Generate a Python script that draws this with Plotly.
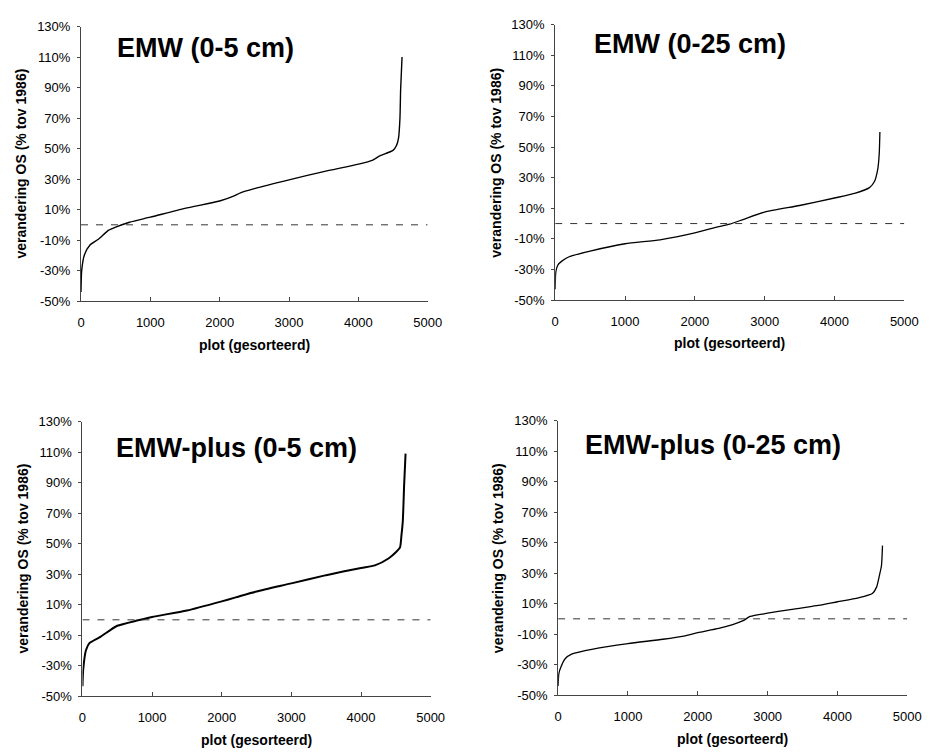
import plotly.graph_objects as go

W, H = 936, 756

# ---- data ----
titles = ["EMW (0-5 cm)", "EMW (0-25 cm)", "EMW-plus (0-5 cm)", "EMW-plus (0-25 cm)"]

emw5_x = [0, 10, 50, 130, 250, 400, 500, 700, 1000, 1500, 2000, 2200, 2300, 2500, 3000, 3500,
          4000, 4200, 4300, 4500, 4550, 4580, 4600, 4610, 4630]
emw5_y = [-44, -30, -19.6, -13.2, -9.5, -3.5, -1.5, 1.7, 5, 10.8, 15.6, 18.8, 21, 23.7, 29.5, 34.9,
          39.8, 42.3, 45, 48.8, 52, 57, 70, 89, 110]

emw25_x = [0, 10, 40, 100, 200, 500, 1000, 1500, 2000, 2300, 2500, 2700, 3000, 3500, 4000, 4300,
           4500, 4570, 4620, 4640, 4650]
emw25_y = [-43, -31.3, -27, -24.4, -21.7, -18, -13.2, -10.6, -6.1, -2.5, -0.4, 2.8, 7.5, 11.8,
           16.7, 19.9, 23.5, 27.3, 35.8, 45.4, 59.9]

plus5_x = [0, 10, 50, 100, 250, 400, 500, 800, 1000, 1500, 2000, 2200, 2500, 3000, 3500, 4000,
           4200, 4400, 4500, 4560, 4580, 4600, 4620, 4640]
plus5_y = [-43.6, -32.9, -20, -15.3, -11.4, -6.7, -3.9, -0.3, 1.9, 6.1, 12.1, 14.7, 18.6, 23.9,
           29.3, 34, 35.7, 40.4, 44.3, 47.5, 55, 64.6, 89, 109]

plus25_x = [0, 10, 40, 100, 200, 500, 1000, 1500, 1800, 2000, 2300, 2500, 2650, 2750, 3000, 3300,
            3700, 4000, 4300, 4500, 4560, 4600, 4630, 4645]
plus25_y = [-44, -35.9, -31.6, -26.2, -23, -19.8, -16.2, -13.4, -11.3, -9.1, -6.3, -3.8, -1.2, 1.6,
            3.7, 5.9, 8.6, 11.2, 13.8, 16.6, 20.8, 28.3, 34.8, 48]

series_x = [emw5_x, emw25_x, plus5_x, plus25_x]
series_y = [emw5_y, emw25_y, plus5_y, plus25_y]

x_range = [0, 5000]
y_range = [-50, 130]
y_ticks = [-50, -30, -10, 10, 30, 50, 70, 90, 110, 130]
x_ticks = [0, 1000, 2000, 3000, 4000, 5000]
x_title = "plot (gesorteerd)"
y_title = "verandering OS (% tov 1986)"

# ---- layout geometry (pixels) ----
# (left, right, top, bottom) plot areas
boxes = [(78.5, 432, 20, 300), (562, 918, 18, 299), (80, 435, 423, 703), (565, 921, 422, 702)]
title_pos = [(494, 116), (534, 117.2), (451, 112.6), (351, 114.1)]
ytitle_x = [17, 502, 19, 504]
xtitle_y = [345, 343, 748, 747]
line_widths = [1.4, 1.3, 2.0, 1.3]

FONT = "Arial, Liberation Sans, sans-serif"

fig = go.Figure()
layout = dict(
    width=W, height=H, margin=dict(l=0, r=0, t=0, b=0),
    paper_bgcolor="white", plot_bgcolor="white", showlegend=False,
    font=dict(family=FONT, color="black"),
)
annotations = []
for i in range(4):
    l, r, t, b = boxes[i]
    xa = "xaxis" if i == 0 else f"xaxis{i+1}"
    ya = "yaxis" if i == 0 else f"yaxis{i+1}"
    xr = "x" if i == 0 else f"x{i+1}"
    yr = "y" if i == 0 else f"y{i+1}"
    layout[xa] = dict(
        domain=[l / W, r / W], anchor=yr, range=x_range, tickvals=x_ticks,
        showgrid=False, zeroline=False, showline=True, linecolor="#444", linewidth=1,
        ticks="inside", ticklen=4, tickcolor="#444", tickwidth=1, ticklabelstandoff=9,
        tickfont=dict(size=13, family=FONT, color="black"), fixedrange=True,
    )
    layout[ya] = dict(
        domain=[1 - b / H, 1 - t / H], anchor=xr, range=y_range, tickvals=y_ticks,
        ticktext=[f"{v}%" for v in y_ticks],
        showgrid=False, zeroline=False, showline=True, linecolor="#444", linewidth=1,
        ticks="outside", ticklen=3, tickcolor="#444", tickwidth=1, ticklabelstandoff=4,
        tickfont=dict(size=13, family=FONT, color="black"), fixedrange=True,
    )
    fig.add_trace(go.Scatter(
        x=series_x[i], y=series_y[i], mode="lines",
        line=dict(color="black", width=line_widths[i], shape="spline", smoothing=0.6),
        xaxis=xr, yaxis=yr, hoverinfo="skip",
    ))
    fig.add_trace(go.Scatter(
        x=x_range, y=[0, 0], mode="lines",
        line=dict(color="#333", width=1, dash="7px,8px"),
        xaxis=xr, yaxis=yr, hoverinfo="skip",
    ))
    tx, ty = title_pos[i]
    annotations.append(dict(
        x=tx, y=ty, xref=xr, yref=yr, xanchor="left", yanchor="middle",
        text=f"<b>{titles[i]}</b>", showarrow=False,
        font=dict(size=27, family=FONT, color="black"),
    ))
    annotations.append(dict(
        x=(l + r) / 2 / W, y=1 - xtitle_y[i] / H, xref="paper", yref="paper",
        xanchor="center", yanchor="middle", text=f"<b>{x_title}</b>", showarrow=False,
        font=dict(size=14, family=FONT, color="black"),
    ))
    annotations.append(dict(
        x=ytitle_x[i] / W, y=1 - (t + b) / 2 / H, xref="paper", yref="paper",
        xanchor="center", yanchor="middle", text=f"<b>{y_title}</b>", showarrow=False,
        textangle=-90, font=dict(size=14, family=FONT, color="black"),
    ))

layout["annotations"] = annotations
fig.update_layout(**layout)
fig.write_html(
    "out.html",
    config={"displayModeBar": False, "staticPlot": True},
    post_script="document.body.style.margin='0';document.body.style.overflow='hidden';",
)
